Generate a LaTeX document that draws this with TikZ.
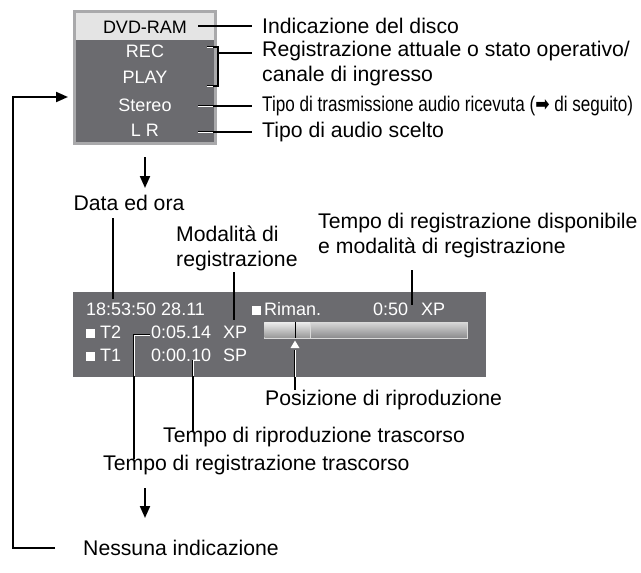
\documentclass[tikz,border=0pt]{standalone}
\usepackage{fontspec}
\usepackage{graphicx}
\setmainfont{Liberation Sans}
\newfontfamily\symfont{DejaVu Sans}
\usetikzlibrary{arrows.meta}
\definecolor{paneldark}{HTML}{6B6B6F}
\definecolor{panelborder}{HTML}{A9A9AB}
\definecolor{panellight}{HTML}{E4E4E4}
\definecolor{barlight}{HTML}{D8D8D8}
\definecolor{bardark}{HTML}{8A8A8C}
\newcommand{\sqbox}{\rule{9pt}{9pt}}
\begin{document}
\begin{tikzpicture}[x=1pt,y=-1pt,
  lbl/.style={font=\fontsize{21.2}{25}\selectfont, inner sep=0pt, anchor=west, align=left},
  ptext/.style={font=\fontsize{18}{22}\selectfont, inner sep=0pt, text=white},
  lead/.style={draw=black, line width=2pt},
  inlead/.style={draw=white, line width=0.7pt},
  arr/.style={draw=black, line width=2pt, -{Triangle[length=12pt,width=10pt]}}
]
\useasboundingbox (0,0) rectangle (641,573);

% ---------- top panel ----------
\fill[panelborder] (73,10) rectangle (217,145);
\fill[paneldark] (76,13) rectangle (214,142);
\fill[panellight] (76,13) rectangle (214,40);
\node[ptext, text=black] (dvd) at (145,27) {DVD-RAM};
\node[ptext] (rec) at (145,51) {REC};
\node[ptext] (play) at (145,77) {PLAY};
\node[ptext] (stereo) at (145,105) {Stereo};
\node[ptext] (lr) at (145,130) {L R};

\node[lbl] (l1) at (262,26) {Indicazione del disco};
\node[lbl] (l2) at (262,64) {Registrazione attuale o stato operativo/\\canale di ingresso};
\node[lbl] (l3) at (262,106) {\resizebox{371pt}{\height}{Tipo di trasmissione audio ricevuta ({\symfont ➡} di seguito)}};
\node[lbl] (l4) at (262,132) {Tipo di audio scelto};

\coordinate (c1) at (198,26);
\draw[lead] (c1) -- ([xshift=-10pt]l1.west);
\coordinate (b1) at (207,47);
\coordinate (b2) at (207,86);
\coordinate (bm) at (218,53);
\draw[lead] (b1) -| (b2 -| bm) -- (b2);
\draw[lead] (bm) -- ([xshift=-10pt]l2.west |- bm);
\draw[inlead] (b1) -- (213,47);
\draw[inlead] (b2) -- (213,86);
\coordinate (c3) at (198,106);
\draw[lead] (c3) -- ([xshift=-10pt]l3.west);
\draw[inlead] (c3) -- (213,106);
\coordinate (c4) at (198,132);
\draw[lead] (c4) -- ([xshift=-10pt]l4.west);
\draw[inlead] (c4) -- (213,132);

% ---------- arrow to date ----------
\coordinate (a1s) at (145,157);
\coordinate (a1e) at (145,188);
\draw[arr] (a1s) -- (a1e);
\node[lbl, anchor=center] (data) at (129,203) {Data ed ora};

\node[lbl] (moda) at (176,248) {Modalità di\\registrazione};
\node[lbl] (disp) at (318,236) {Tempo di registrazione disponibile\\e modalità di registrazione};

% ---------- bottom panel ----------
\fill[paneldark] (73,292) rectangle (486,377);
\node[ptext, anchor=west] (clock) at (86,309) {18:53:50 28.11};
\node[ptext, anchor=west] (riman) at (252,309) {\sqbox\,Riman.};
\node[ptext, anchor=west] (rem) at (373,309) {0:50};
\node[ptext, anchor=west] (remxp) at (421,309) {XP};
\node[ptext, anchor=west] (t2) at (86,332) {\sqbox\ T2};
\node[ptext, anchor=west] (t2time) at (151,332) {0:05.14};
\node[ptext, anchor=west] (t2xp) at (223,332) {XP};
\node[ptext, anchor=west] (t1) at (86,355) {\sqbox\ T1};
\node[ptext, anchor=west] (t1time) at (151,355) {0:00.10};
\node[ptext, anchor=west] (t1sp) at (223,355) {SP};

% progress bar
\shade[top color=barlight, bottom color=bardark, draw=white!85!black, line width=0.8pt] (264,322) rectangle (467,338);
\shade[top color=white!92!black, bottom color=white!60!black] (264.5,322.5) rectangle (310,337.5);
\draw[white!85!black, line width=0.8pt] (310,322) -- (310,338);
\draw[black, line width=1pt] (295,322) -- (295,338);
\fill[white] (295,340.5) -- (290.5,348) -- (299.5,348) -- cycle;

% leaders in the bottom panel
\draw[lead] (113,218) -- (113,299);
\draw[lead] (234,272) -- (234,320);
\draw[lead] (412,270) -- (412,305);

\node[lbl] (pos) at (265,400) {Posizione di riproduzione};
\node[lbl] (ripro) at (163,437) {Tempo di riproduzione trascorso};
\node[lbl] (regis) at (103,465) {Tempo di registrazione trascorso};

\coordinate (p1) at (295,350);
\draw[lead] (p1) -- (p1 |- pos.north);
\draw[inlead] (p1) -- (295,377);
\coordinate (r1) at (193,360);
\draw[lead] (r1) -- ([yshift=-4pt]r1 |- ripro.north);
\draw[inlead] (r1) -- (193,376);
\coordinate (g1) at (150,335);
\coordinate (g2) at (134,335);
\draw[lead] (g1) -- (g2) -- ([yshift=-4pt]g2 |- regis.north);
\draw[inlead] (g1) -- (g2) -- (134,376);

% ---------- last arrow and loop ----------
\coordinate (a2s) at (145,488);
\coordinate (a2e) at (145,518);
\draw[arr] (a2s) -- (a2e);
\node[lbl] (none) at (83,548) {Nessuna indicazione};
\coordinate (q1) at (55,548);
\coordinate (q2) at (13,548);
\coordinate (q3) at (13,97);
\coordinate (q4) at (68,97);
\draw[arr] (q1) -- (q2) -- (q3) -- (q4);
\end{tikzpicture}
\end{document}
